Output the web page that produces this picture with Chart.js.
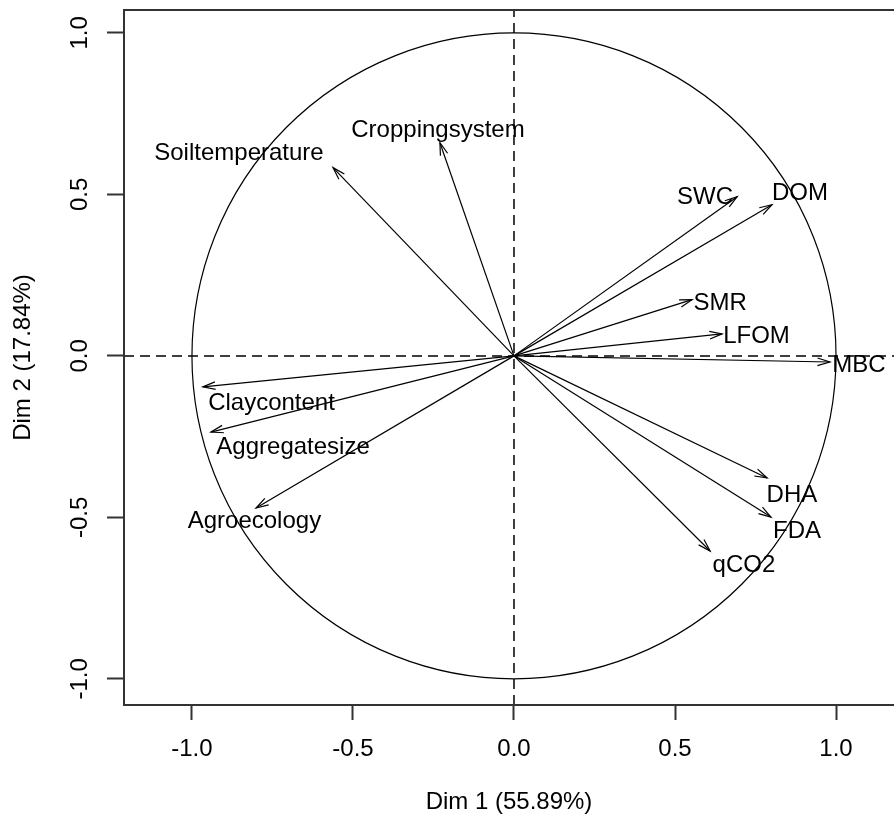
<!DOCTYPE html>
<html>
<head>
<meta charset="utf-8">
<script src="https://cdn.jsdelivr.net/npm/chart.js@4.4.1/dist/chart.umd.min.js"></script>
<style>
  html, body { margin: 0; padding: 0; background: #ffffff; }
  #wrap { width: 894px; height: 821px; overflow: hidden; }
</style>
</head>
<body>
<div id="wrap"><canvas id="c" width="894" height="821"></canvas></div>
<script>
// ---- data (variables factor map, PCA) ----
const variables = ['Soiltemperature', 'Croppingsystem', 'SWC', 'DOM', 'SMR', 'LFOM', 'MBC',
                   'DHA', 'FDA', 'qCO2', 'Claycontent', 'Aggregatesize', 'Agroecology'];
const dim1 = [-0.562, -0.230, 0.693, 0.801, 0.553, 0.646, 0.981, 0.786, 0.798, 0.609, -0.966, -0.941, -0.801];
const dim2 = [0.583, 0.660, 0.493, 0.468, 0.174, 0.068, -0.019, -0.378, -0.499, -0.604, -0.096, -0.236, -0.471];
// label anchor positions (in Dim units) as placed in the reference
const labelDim1 = [-0.854, -0.236, 0.593, 0.888, 0.640, 0.753, 1.071, 0.863, 0.879, 0.714, -0.753, -0.686, -0.806];
const labelDim2 = [0.626, 0.697, 0.490, 0.502, 0.163, 0.060, -0.028, -0.432, -0.544, -0.649, -0.146, -0.282, -0.511];
const xTicks = [-1.0, -0.5, 0.0, 0.5, 1.0];
const yTicks = [-1.0, -0.5, 0.0, 0.5, 1.0];
const xTitle = 'Dim 1 (55.89%)';
const yTitle = 'Dim 2 (17.84%)';
const xRange = [-1.211, 1.180];
const yRange = [-1.081, 1.071];

const FONT = "'Liberation Sans', Arial, Helvetica, sans-serif";
const INK = '#000000';
const FRAME = '#333333';

const arrowSets = variables.map((name, i) => ({
  label: name,
  data: [{x: 0, y: 0}, {x: dim1[i], y: dim2[i]}],
  showLine: true,
  borderColor: INK,
  borderWidth: 1.2,
  pointRadius: 0,
  fill: false
}));

const refLines = [
  { label: 'h0', data: [{x: xRange[0], y: 0}, {x: xRange[1], y: 0}] },
  { label: 'v0', data: [{x: 0, y: yRange[0]}, {x: 0, y: yRange[1]}] }
].map(d => Object.assign(d, {
  showLine: true, borderColor: INK, borderWidth: 1.5, borderDash: [10, 6],
  pointRadius: 0, fill: false
}));

const zeroPad = s => { s.paddingTop = 0; s.paddingBottom = 0; s.paddingLeft = 0; s.paddingRight = 0; };

const decorPlugin = {
  id: 'decor',
  beforeDatasetsDraw(chart) {
    const {ctx, chartArea: a, scales: {x, y}} = chart;
    ctx.save();
    ctx.beginPath();
    ctx.rect(a.left, a.top, a.right - a.left, a.bottom - a.top);
    ctx.clip();
    // correlation circle
    const cx = x.getPixelForValue(0), cy = y.getPixelForValue(0);
    const rx = x.getPixelForValue(1) - cx, ry = cy - y.getPixelForValue(1);
    ctx.beginPath();
    ctx.ellipse(cx, cy, rx, ry, 0, 0, Math.PI * 2);
    ctx.strokeStyle = INK;
    ctx.lineWidth = 1.2;
    ctx.stroke();
    ctx.restore();
  },
  afterDatasetsDraw(chart) {
    const {ctx, chartArea: a, scales: {x, y}} = chart;
    ctx.save();
    // arrow heads
    ctx.strokeStyle = INK;
    ctx.lineWidth = 1.2;
    const headLen = 13, headAng = 17 * Math.PI / 180;
    const ox = x.getPixelForValue(0), oy = y.getPixelForValue(0);
    for (let i = 0; i < variables.length; i++) {
      const tx = x.getPixelForValue(dim1[i]), ty = y.getPixelForValue(dim2[i]);
      const ang = Math.atan2(ty - oy, tx - ox);
      ctx.beginPath();
      ctx.moveTo(tx - headLen * Math.cos(ang - headAng), ty - headLen * Math.sin(ang - headAng));
      ctx.lineTo(tx, ty);
      ctx.lineTo(tx - headLen * Math.cos(ang + headAng), ty - headLen * Math.sin(ang + headAng));
      ctx.stroke();
    }
    // labels
    ctx.fillStyle = INK;
    ctx.font = '24px ' + FONT;
    ctx.textAlign = 'center';
    ctx.textBaseline = 'middle';
    for (let i = 0; i < variables.length; i++) {
      ctx.fillText(variables[i], x.getPixelForValue(labelDim1[i]), y.getPixelForValue(labelDim2[i]));
    }
    // plot frame (right side lies beyond the cropped picture)
    ctx.strokeStyle = FRAME;
    ctx.lineWidth = 2;
    ctx.beginPath();
    ctx.moveTo(a.right + 2, a.top);
    ctx.lineTo(a.left, a.top);
    ctx.lineTo(a.left, a.bottom);
    ctx.lineTo(a.right + 2, a.bottom);
    ctx.stroke();
    ctx.restore();
  }
};

new Chart(document.getElementById('c'), {
  type: 'scatter',
  data: { datasets: refLines.concat(arrowSets) },
  options: {
    responsive: false,
    devicePixelRatio: 1,
    animation: false,
    events: [],
    layout: { padding: { top: 10, left: 0, right: 0, bottom: 0 } },
    plugins: { legend: { display: false }, tooltip: { enabled: false } },
    scales: {
      x: {
        type: 'linear', position: 'bottom',
        min: xRange[0], max: xRange[1],
        afterFit: s => { s.height = 116; zeroPad(s); },
        afterBuildTicks: s => { s.ticks = xTicks.map(v => ({value: v})); },
        border: { display: false },
        grid: { display: true, drawOnChartArea: false, drawTicks: true, tickLength: 15, tickWidth: 2, tickColor: FRAME },
        ticks: {
          autoSkip: false, maxRotation: 0, minRotation: 0, padding: 15,
          color: INK, font: { family: FONT, size: 24 },
          callback: v => Number(v).toFixed(1)
        },
        title: { display: true, text: xTitle, color: INK, font: { family: FONT, size: 24 }, padding: { top: 0, bottom: 4 } }
      },
      y: {
        type: 'linear', position: 'left',
        min: yRange[0], max: yRange[1],
        afterFit: s => { s.width = 124; zeroPad(s); },
        afterBuildTicks: s => { s.ticks = yTicks.map(v => ({value: v})); },
        border: { display: false },
        grid: { display: true, drawOnChartArea: false, drawTicks: true, tickLength: 17, tickWidth: 2, tickColor: FRAME },
        ticks: {
          autoSkip: false, minRotation: 90, maxRotation: 90, crossAlign: 'center', padding: 6,
          color: INK, font: { family: FONT, size: 24 },
          callback: v => Number(v).toFixed(1)
        },
        title: { display: true, text: yTitle, color: INK, font: { family: FONT, size: 24 }, padding: { top: 9, bottom: 0 } }
      }
    }
  },
  plugins: [decorPlugin]
});
</script>
</body>
</html>
